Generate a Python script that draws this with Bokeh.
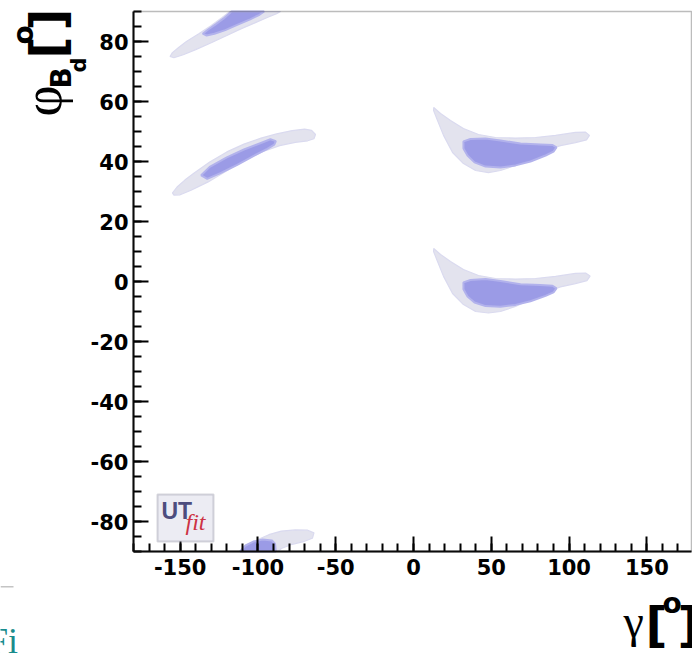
import math
from bokeh.plotting import figure
from bokeh.models import Range1d, FixedTicker, Label, BoxAnnotation, LinearAxis
from bokeh.embed import file_html
from bokeh.resources import INLINE

# ---------------- data ----------------
X_TICKS = [-150, -100, -50, 0, 50, 100, 150]
X_TICK_LABELS = ["-150", "-100", "-50", "0", "50", "100", "150"]
X_MINOR = list(range(-180, 180, 10))
Y_TICKS = [-80, -60, -40, -20, 0, 20, 40, 60, 80]
Y_TICK_LABELS = ["-80", "-60", "-40", "-20", "0", "20", "40", "60", "80"]
Y_MINOR = list(range(-90, 91, 5))

# outer (light) probability regions: gamma [deg], phi_Bd [deg]
outer_a_gamma = [-156.5, -155, -151, -146, -138, -130, -123, -118, -85.5, -88, -94, -102, -111, -120, -130, -140, -148, -154]
outer_a_phi = [75.0, 76.3, 78.0, 80.0, 82.6, 85.3, 88.0, 90.0, 90.0, 89.3, 88.0, 86.2, 84.2, 82.0, 79.6, 77.3, 75.6, 74.6]

outer_b_gamma = [-155, -152, -147, -141, -131, -120, -109, -98, -88, -78, -70, -65.5, -63, -64, -68, -76, -86, -97, -108, -120, -132, -143, -150, -154]
outer_b_phi = [29.5, 31.5, 33.8, 36.2, 39.8, 43.2, 45.8, 47.8, 49.2, 50.3, 50.8, 50.4, 49.0, 47.6, 46.9, 46.4, 45.3, 43.3, 40.5, 36.9, 33.2, 30.4, 28.9, 28.8]

outer_c_gamma = [13.0, 17.4, 23.8, 32.1, 41.8, 52.7, 65.6, 78.4, 91.3, 104.1, 110.6, 113.1, 111.2, 104.1, 94.5, 84.9, 75.2, 65.6, 55.9, 48.2, 39.9, 32.1, 25.1, 19.3, 15.4, 12.9]
outer_c_phi = [58.0, 56.0, 53.7, 51.0, 49.0, 48.0, 47.8, 48.0, 48.7, 49.7, 49.8, 48.7, 47.2, 46.3, 45.3, 43.7, 41.0, 38.7, 37.0, 36.3, 37.0, 39.3, 43.0, 48.7, 53.7, 57.0]

outer_d_gamma = [13.0, 17.4, 23.8, 32.1, 41.8, 52.7, 65.6, 78.4, 91.3, 104.1, 110.6, 113.5, 111.5, 104.1, 94.5, 84.9, 75.2, 65.6, 55.9, 48.2, 39.9, 32.1, 25.1, 19.3, 15.4, 12.9]
outer_d_phi = [11.0, 9.0, 6.7, 4.0, 2.0, 1.0, 0.8, 1.0, 1.7, 2.7, 2.8, 1.8, 0.3, -0.7, -1.8, -3.5, -6.0, -8.3, -10.0, -10.5, -10.0, -7.7, -4.0, 1.7, 6.7, 10.0]

outer_e_gamma = [-110, -106, -100, -93, -85, -76, -68, -64, -65, -70, -78, -85, -87]
outer_e_phi = [-90, -88.3, -86.0, -84.4, -83.2, -82.8, -82.9, -83.8, -85.6, -86.6, -87.6, -89.0, -90]

# inner (dark) probability regions
inner_a_gamma = [-135.5, -132, -127, -122, -117, -96, -99, -105, -113, -121, -128, -133]
inner_a_phi = [82.6, 84.0, 85.8, 87.7, 90.0, 90.0, 88.9, 87.4, 85.6, 83.8, 82.6, 82.0]

inner_b_gamma = [-136.5, -131.0, -120.0, -109.0, -98.5, -92.0, -88.5, -89.5, -94.0, -102.7, -113.3, -124.1, -132.6]
inner_b_phi = [35.4, 38.2, 41.4, 44.0, 46.1, 47.4, 46.8, 45.6, 44.2, 41.9, 38.9, 36.1, 34.2]

inner_c_gamma = [32.1, 36.6, 46.3, 55.9, 68.8, 81.6, 89.4, 91.9, 90.0, 84.9, 75.2, 65.6, 55.9, 46.3, 39.2, 34.7, 32.1]
inner_c_phi = [46.7, 47.5, 47.7, 47.0, 46.0, 45.7, 45.5, 44.7, 43.3, 42.0, 40.0, 38.7, 38.0, 38.3, 39.7, 42.0, 44.3]

inner_d_gamma = [32.1, 36.6, 46.3, 55.9, 68.8, 81.6, 89.4, 91.9, 90.0, 84.9, 75.2, 65.6, 55.9, 46.3, 39.2, 34.7, 32.1]
inner_d_phi = [-0.3, 0.5, 0.8, 0.2, -0.9, -1.2, -1.4, -2.3, -3.6, -4.8, -6.6, -7.8, -8.4, -8.2, -7.0, -5.0, -2.6]

inner_e_gamma = [-111.5, -108, -103, -97, -91, -89, -88.5]
inner_e_phi = [-90, -88.0, -86.7, -86.0, -86.3, -87.5, -90]

# ---------------- layout ----------------
W, H = 692, 653
AX_LEFT_PX, AX_TOP_PX = 133, 11          # where gamma=-180 / phi=+90 sit on the canvas
PX_PER_X, PX_PER_Y = 1.5556, 3.0
GAMMA_MIN, PHI_MIN, PHI_MAX = -180.0, -90.0, 90.0
X0 = GAMMA_MIN - AX_LEFT_PX / PX_PER_X
X1 = X0 + W / PX_PER_X
Y1 = PHI_MAX + AX_TOP_PX / PX_PER_Y
Y0 = Y1 - H / PX_PER_Y
GAMMA_FRAME_MAX = X0 + 691 / PX_PER_X


def dx(px):
    return X0 + px / PX_PER_X


def dy(py):
    return Y1 - py / PX_PER_Y


p = figure(width=W, height=H, x_range=Range1d(X0, X1), y_range=Range1d(Y0, Y1),
           output_backend="svg", toolbar_location=None,
           x_axis_location=None, y_axis_location=None,
           min_border=0, min_border_left=0, min_border_right=0,
           min_border_top=0, min_border_bottom=0)
p.grid.visible = False
p.background_fill_color = "white"
p.border_fill_color = "white"
p.outline_line_color = None

OUTER_FILL = "#e3e3ee"
INNER_FILL = "#9b9be6"

p.patches(xs=[outer_a_gamma, outer_b_gamma, outer_c_gamma, outer_d_gamma, outer_e_gamma],
          ys=[outer_a_phi, outer_b_phi, outer_c_phi, outer_d_phi, outer_e_phi],
          fill_color=OUTER_FILL, line_color="#dadaef", line_width=1.2)
p.patches(xs=[inner_a_gamma, inner_b_gamma, inner_c_gamma, inner_d_gamma, inner_e_gamma],
          ys=[inner_a_phi, inner_b_phi, inner_c_phi, inner_d_phi, inner_e_phi],
          fill_color=INNER_FILL, line_color="#b2b2ec", line_width=2)

# frame box
p.add_layout(BoxAnnotation(left=GAMMA_MIN, right=GAMMA_FRAME_MAX, bottom=PHI_MIN, top=PHI_MAX,
                           fill_alpha=0, line_color="#222222", line_width=1.5))

xaxis = LinearAxis(fixed_location=PHI_MIN, bounds=(GAMMA_MIN, GAMMA_FRAME_MAX))
yaxis = LinearAxis(fixed_location=GAMMA_MIN, bounds=(PHI_MIN, PHI_MAX))
p.add_layout(xaxis, "below")
p.add_layout(yaxis, "left")

for ax, ticks, labels, minor in ((xaxis, X_TICKS, X_TICK_LABELS, X_MINOR),
                                 (yaxis, Y_TICKS, Y_TICK_LABELS, Y_MINOR)):
    ax.ticker = FixedTicker(ticks=ticks, minor_ticks=minor)
    ax.major_label_overrides = {t: l for t, l in zip(ticks, labels)}
    ax.major_label_text_font = "DejaVu Sans"
    ax.major_label_text_font_style = "bold"
    ax.major_label_text_font_size = "21px"
    ax.major_label_text_color = "black"
    ax.axis_line_width = 2
    ax.axis_line_color = "black"
    ax.major_tick_in = 15
    ax.major_tick_out = 0
    ax.minor_tick_in = 8
    ax.minor_tick_out = 0
    ax.major_tick_line_width = 2
    ax.minor_tick_line_width = 2
    ax.major_tick_line_color = "black"
    ax.minor_tick_line_color = "black"
xaxis.major_label_standoff = 7
yaxis.major_label_standoff = 5


def add_text(txt, ax_px, ay_px, font, style, size, color="black", angle=0.0):
    # (ax_px, ay_px): canvas pixel of the bottom-left corner of the text box
    p.add_layout(Label(x=dx(ax_px), y=dy(ay_px), text=txt, angle=angle, text_font=font,
                       text_font_style=style, text_font_size=size, text_color=color,
                       text_baseline="bottom", text_align="left", text_line_height=1.0))


# UTfit logo
p.add_layout(BoxAnnotation(left=dx(157), right=dx(213), top=dy(494), bottom=dy(541),
                           fill_color="#ececf3", fill_alpha=1, line_color="#77778a", line_width=2))
add_text("UT", 161, 523, "Liberation Sans", "bold", "23px", "#4d4d7e")
add_text("fit", 185, 534, "Liberation Serif", "italic", "24px", "#cc3344")

HALF_PI = math.pi / 2
TITLE_SANS = "DejaVu Sans"
TITLE_SERIF = "Liberation Serif"

# y-axis title  phi_{B_d}[o]  (rotated; first number = descent-side edge)
for txt, bx, by, font, style, size in (
        ("φ", 72, 116, TITLE_SERIF, "normal", "54px"),
        ("B", 77, 88, TITLE_SANS, "bold", "28px"),
        ("d", 90, 72, TITLE_SANS, "bold", "21px"),
        ("[", 75, 58, TITLE_SANS, "bold", "48px"),
        ("o", 39, 44, TITLE_SANS, "bold", "28px"),
        ("]", 75, 30, TITLE_SANS, "bold", "48px")):
    add_text(txt, bx, by, font, style, size, angle=HALF_PI)

# x-axis title  gamma[o]
for txt, bx, by, font, style, size in (
        ("γ", 623, 646, TITLE_SERIF, "normal", "46px"),
        ("[", 645, 652, TITLE_SANS, "bold", "48px"),
        ("o", 662, 619, TITLE_SANS, "bold", "28px"),
        ("]", 677, 652, TITLE_SANS, "bold", "48px")):
    add_text(txt, bx, by, font, style, size)

# surrounding page fragments
p.add_layout(BoxAnnotation(left=dx(0), right=dx(13), top=dy(585.5), bottom=dy(587),
                           fill_color="#c4c4c4", fill_alpha=1, line_alpha=0))
add_text("Fi", -12.5, 660, "Liberation Serif", "normal", "36px", "#1a8c8c")

open("out.html", "w").write(file_html(p, INLINE))
